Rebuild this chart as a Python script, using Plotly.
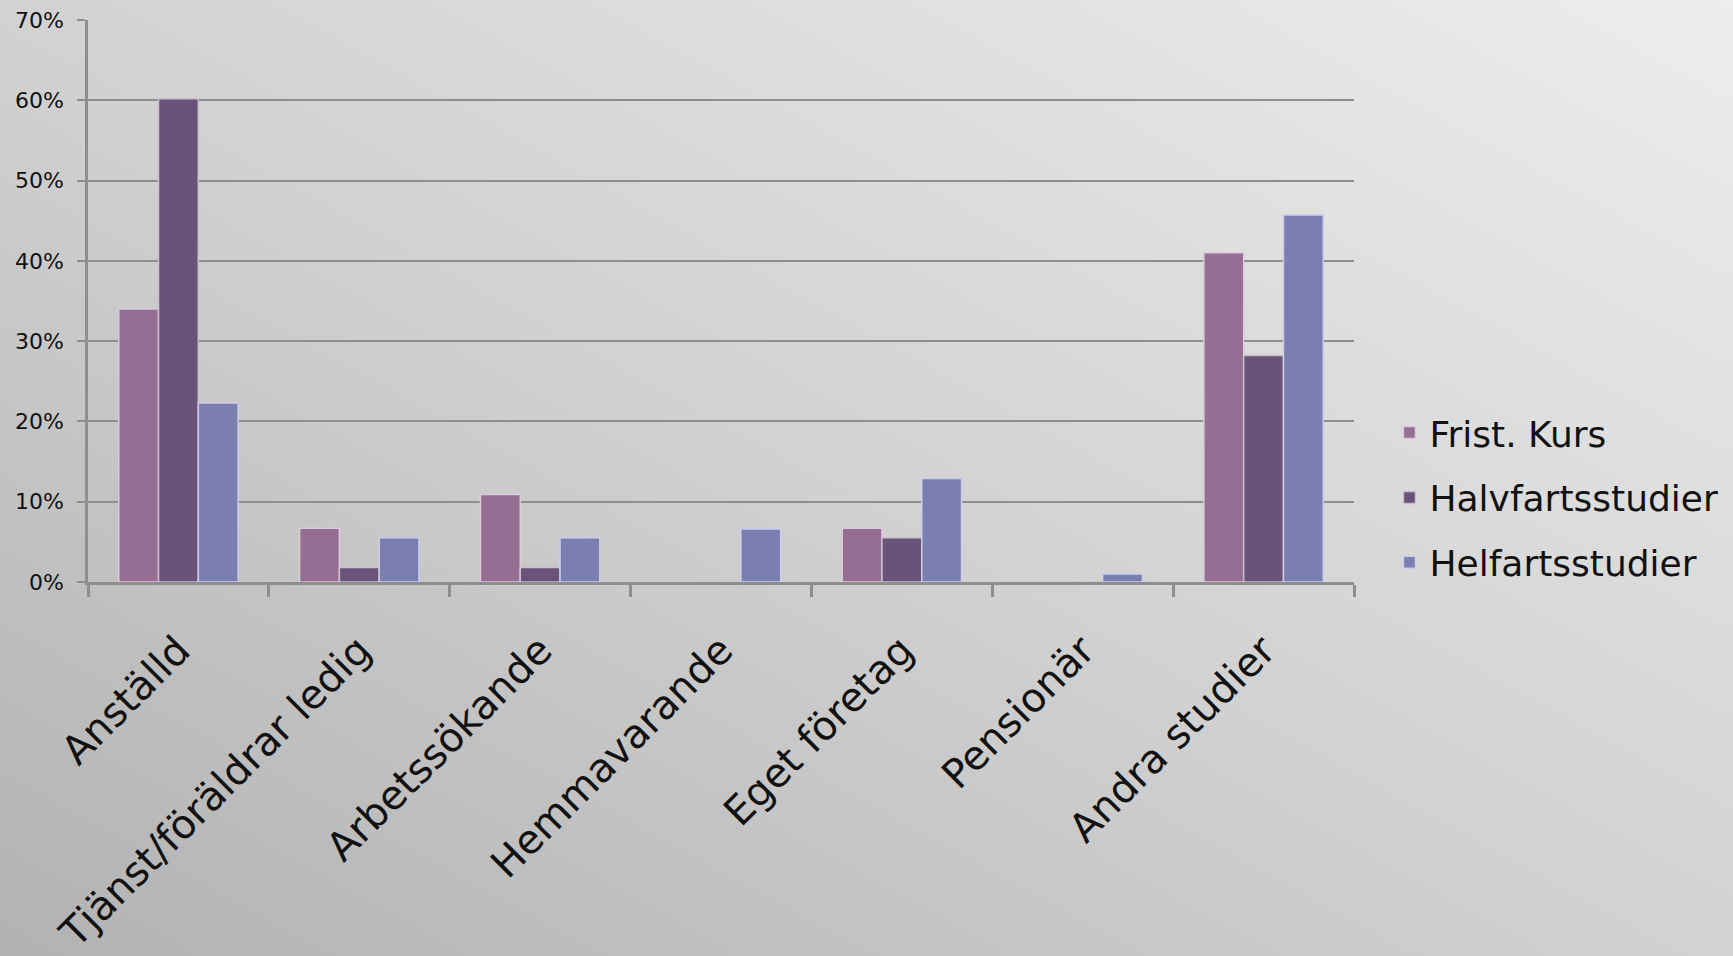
import base64
import plotly.graph_objects as go

categories = ["Anställd", "Tjänst/föräldrar ledig", "Arbetssökande", "Hemmavarande",
              "Eget företag", "Pensionär", "Andra studier"]
frist_kurs = [34.0, 6.7, 10.9, 0.0, 6.7, 0.0, 41.0]
halvfart = [60.2, 1.8, 1.8, 0.0, 5.5, 0.0, 28.2]
helfart = [22.3, 5.5, 5.5, 6.6, 12.9, 1.0, 45.7]
series_names = ["Frist. Kurs", "Halvfartsstudier", "Helfartsstudier"]
y_ticks = [0, 10, 20, 30, 40, 50, 60, 70]
y_labels = [f"{v}%" for v in y_ticks]

colors = ["#976e93", "#6a5378", "#7a7fb0"]
edge = ["#dccadb", "#c8c0cc", "#cbcdea"]

svg = """<svg xmlns='http://www.w3.org/2000/svg' width='1733' height='956' viewBox='0 0 1733 956' preserveAspectRatio='none'>
<defs><linearGradient id='g' x1='1' y1='0' x2='0' y2='1'>
<stop offset='0' stop-color='#ededed'/><stop offset='0.5' stop-color='#d2d2d2'/><stop offset='1' stop-color='#b2b2b2'/>
</linearGradient></defs><rect width='1733' height='956' fill='url(#g)'/></svg>"""
bg_uri = "data:image/svg+xml;base64," + base64.b64encode(svg.encode()).decode()

fig = go.Figure()
for i, (name, vals, c, e) in enumerate(zip(series_names, [frist_kurs, halvfart, helfart], colors, edge)):
    fig.add_trace(go.Bar(x=categories, y=vals, name=name, legendgroup=f"g{i}",
                         marker=dict(color=c, line=dict(color=e, width=1.5))))

fig.update_layout(
    autosize=True,
    margin=dict(l=88, r=379, t=20, b=374, autoexpand=False),
    paper_bgcolor="#cfcfcf",
    plot_bgcolor="rgba(0,0,0,0)",
    barmode="group", bargap=0.34, bargroupgap=0.0,
    font=dict(family="DejaVu Sans", color="#111111"),
    images=[dict(source=bg_uri, xref="paper", yref="paper", x=-88/1266, y=1+20/562,
                 sizex=1733/1266, sizey=956/562, sizing="stretch", layer="below",
                 xanchor="left", yanchor="top")],
    legend=dict(x=1.028, y=0.15, xanchor="left", yanchor="middle",
                font=dict(size=36, color="#111111"), bgcolor="rgba(0,0,0,0)",
                itemwidth=30, tracegroupgap=15, traceorder="grouped"),
    xaxis=dict(tickangle=-45, tickfont=dict(size=40, color="#111111"),
               showline=True, linecolor="#8e8e8e", linewidth=2.5,
               ticks="outside", tickson="boundaries", ticklen=12, tickcolor="#8e8e8e",
               tickwidth=2.5, showgrid=False, ticklabelstandoff=26),
    yaxis=dict(range=[0, 70], tickvals=y_ticks, ticktext=y_labels,
               tickfont=dict(size=22, color="#111111"),
               showgrid=True, gridcolor="#8e8e8e", gridwidth=2,
               showline=True, linecolor="#8e8e8e", linewidth=2.5,
               ticks="outside", ticklen=8, tickcolor="#8e8e8e", tickwidth=2, zeroline=False,
               ticklabelstandoff=9),
)

post = ("document.documentElement.style.margin='0';document.body.style.margin='0';"
        "document.body.style.overflow='hidden';"
        "var gd=document.getElementById('{plot_id}');Plotly.Plots.resize(gd);")
fig.write_html("out.html", default_width="100%", default_height="100vh",
               include_plotlyjs=True, full_html=True, post_script=post,
               config={"displayModeBar": False})
